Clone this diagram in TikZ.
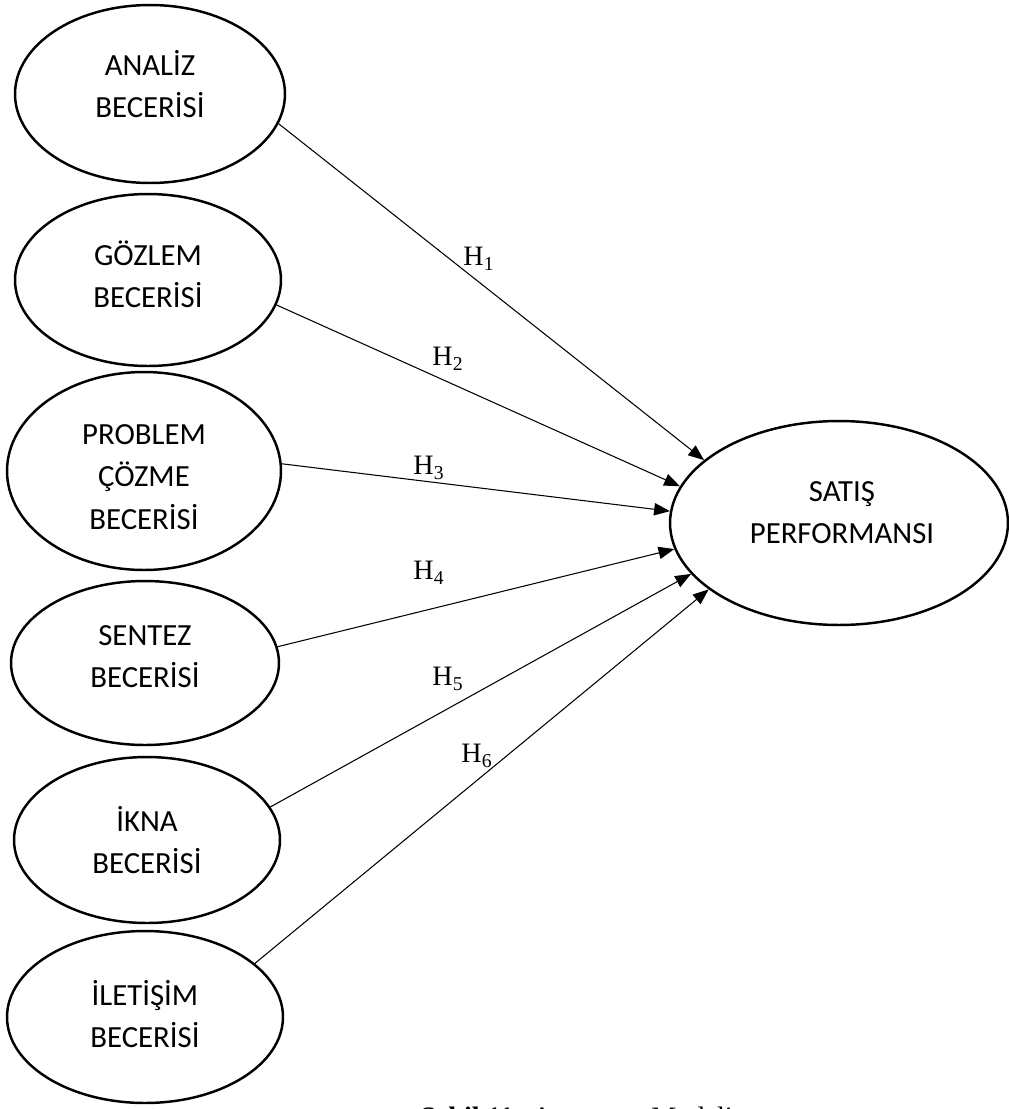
\documentclass[tikz,border=0pt]{standalone}
\usepackage{fontspec}
\setmainfont{Liberation Serif}
\newfontfamily\skillfont{Carlito}
\usetikzlibrary{shapes.geometric,arrows.meta}
\begin{document}
\begin{tikzpicture}[x=0.02cm,y=-0.02cm,
  skill/.style={draw,ellipse,line width=1.4pt,inner sep=0pt},
  skilltext/.style={align=center,font=\skillfont\fontsize{17.5}{24}\selectfont},
  hyp/.style={font=\fontsize{16}{19}\selectfont},
  link/.style={line width=0.6pt,-{Triangle[length=9pt,width=7pt]}}]
  \useasboundingbox (0,0) rectangle (1008,1109);

  % predictor constructs
  \node[skill,minimum width=5.4cm,minimum height=3.56cm] (e1) at (150,94) {};
  \node[skill,minimum width=5.32cm,minimum height=3.44cm] (e2) at (148,280) {};
  \node[skill,minimum width=5.48cm,minimum height=3.96cm] (e3) at (144,471) {};
  \node[skill,minimum width=5.36cm,minimum height=3.28cm] (e4) at (145,663) {};
  \node[skill,minimum width=5.32cm,minimum height=3.32cm] (e5) at (147,840) {};
  \node[skill,minimum width=5.52cm,minimum height=3.44cm] (e6) at (145,1017) {};
  % outcome construct
  \node[skill,minimum width=6.76cm,minimum height=4.08cm] (s) at (839,523) {};

  \node[skilltext] (t1) at (150,84) {ANALİZ\\BECERİSİ};
  \node[skilltext] (t2) at (148,274) {GÖZLEM\\BECERİSİ};
  \node[skilltext] (t3) at (144,477) {PROBLEM\\ÇÖZME\\BECERİSİ};
  \node[skilltext] (t4) at (145,657) {SENTEZ\\BECERİSİ};
  \node[skilltext] (t5) at (147,840) {İKNA\\BECERİSİ};
  \node[skilltext] (t6) at (145,1014) {İLETİŞİM\\BECERİSİ};
  \node[skilltext] (ts) at (842,513) {SATIŞ\\PERFORMANSI};

  % hypothesised paths
  \draw[link] (e1.-13.7) -- (s.155.5);
  \draw[link] (e2.-11) -- (s.167.4);
  \draw[link] (e3.3.4) -- (s.176.6);
  \draw[link] (e4.7.7) -- (s.-171.1);
  \draw[link] (e5.15) -- (s.-161.1);
  \draw[link] (e6.26) -- (s.-153.8);

  \node[hyp] (h1) at (479,259) {H\textsubscript{1}};
  \node[hyp] (h2) at (448,359) {H\textsubscript{2}};
  \node[hyp] (h3) at (429,468) {H\textsubscript{3}};
  \node[hyp] (h4) at (429,573) {H\textsubscript{4}};
  \node[hyp] (h5) at (448,679) {H\textsubscript{5}};
  \node[hyp] (h6) at (477,756) {H\textsubscript{6}};

  % figure caption
  \node[anchor=base west,inner sep=0pt,font=\fontsize{16}{19}\selectfont] (cap) at (420,1126)
    {\textbf{Şekil 11:} Araştırma Modeli};
\end{tikzpicture}
\end{document}
